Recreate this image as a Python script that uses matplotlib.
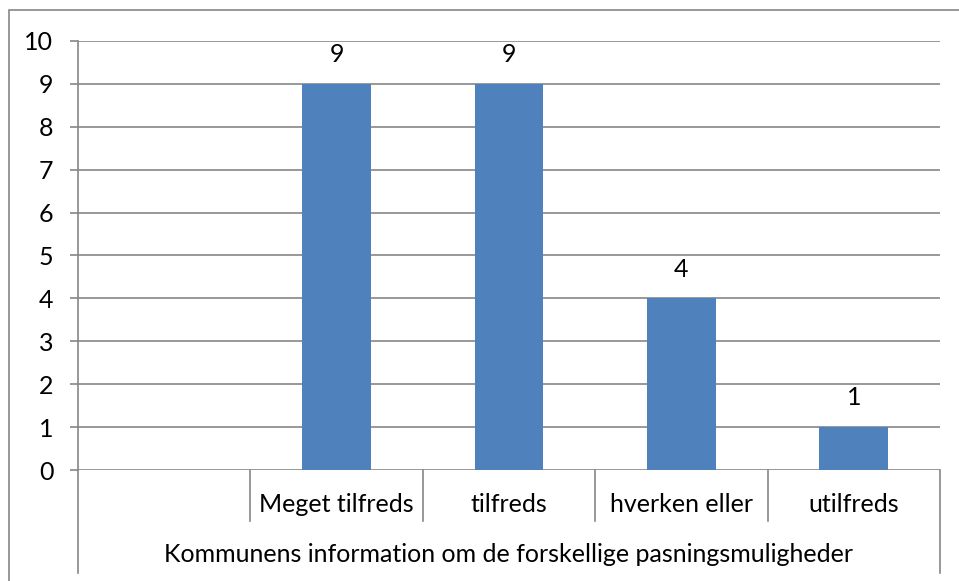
import numpy as np
import matplotlib
matplotlib.use("Agg")
from matplotlib import pyplot as plt
from matplotlib.patches import Rectangle
from matplotlib.lines import Line2D

categories = ["", "Meget tilfreds", "tilfreds", "hverken eller", "utilfreds"]
values = [0, 9, 9, 4, 1]
group_label = "Kommunens information om de forskellige pasningsmuligheder"
yticks = list(range(0, 11))

plt.rcParams['font.family'] = ['Lato', 'DejaVu Sans']
FS = 18

W, H = 959, 581
fig = plt.figure(figsize=(W / 100, H / 100), dpi=100)
# plot area in pixels: left 78, right 940, top 41, bottom 470
ax = fig.add_axes([78 / W, 1 - 470 / H, (940 - 78) / W, (470 - 41) / H])

grid_col = "#868686"
x = np.arange(len(categories))
bar_vals = [v if c else np.nan for c, v in zip(categories, values)]
ax.bar(x, bar_vals, width=0.4, color="#4F81BD", zorder=3)
for xi, v, c in zip(x, values, categories):
    if c:
        ax.text(xi, v + 0.68, str(v), ha="center", va="center", fontsize=FS, color="black")

ax.set_xlim(-0.5, len(categories) - 0.5)
ax.set_ylim(0, 10)
ax.set_yticks(yticks)
ax.set_yticklabels([str(t) for t in yticks], fontsize=FS)
ax.tick_params(axis="y", length=5.8, color=grid_col, width=1.2, pad=12)
ax.set_xticks([])
for t in yticks:
    ax.axhline(t, color=grid_col, lw=1.2, zorder=1)
for s in ["top", "right", "bottom"]:
    ax.spines[s].set_visible(False)
ax.spines["left"].set_color(grid_col)
ax.spines["left"].set_linewidth(1.2)

# multi-level category axis drawn below
trans = ax.get_xaxis_transform()
ph = 470 - 41
bounds = np.arange(len(categories) + 1) - 0.5
for i, b in enumerate(bounds):
    if i == 0 or i == len(bounds) - 1:
        y_end = -(573 - 470) / ph
    else:
        y_end = -(521 - 470) / ph
    ax.add_line(Line2D([b, b], [0, y_end], transform=trans, color=grid_col, lw=1.2, clip_on=False))
for xi, c in zip(x, categories):
    ax.text(xi, -(505 - 470) / ph, c, transform=trans, ha="center", va="center", fontsize=FS)
ax.text(np.mean(x), -(555 - 470) / ph, group_label, transform=trans,
        ha="center", va="center", fontsize=FS)

# outer chart border
fig.patches.append(Rectangle((9 / W, -0.1), 1.2, 1 - 10 / H + 0.1, transform=fig.transFigure,
                             fill=False, edgecolor=grid_col, lw=1.2))

fig.savefig("out.png", dpi=100)
